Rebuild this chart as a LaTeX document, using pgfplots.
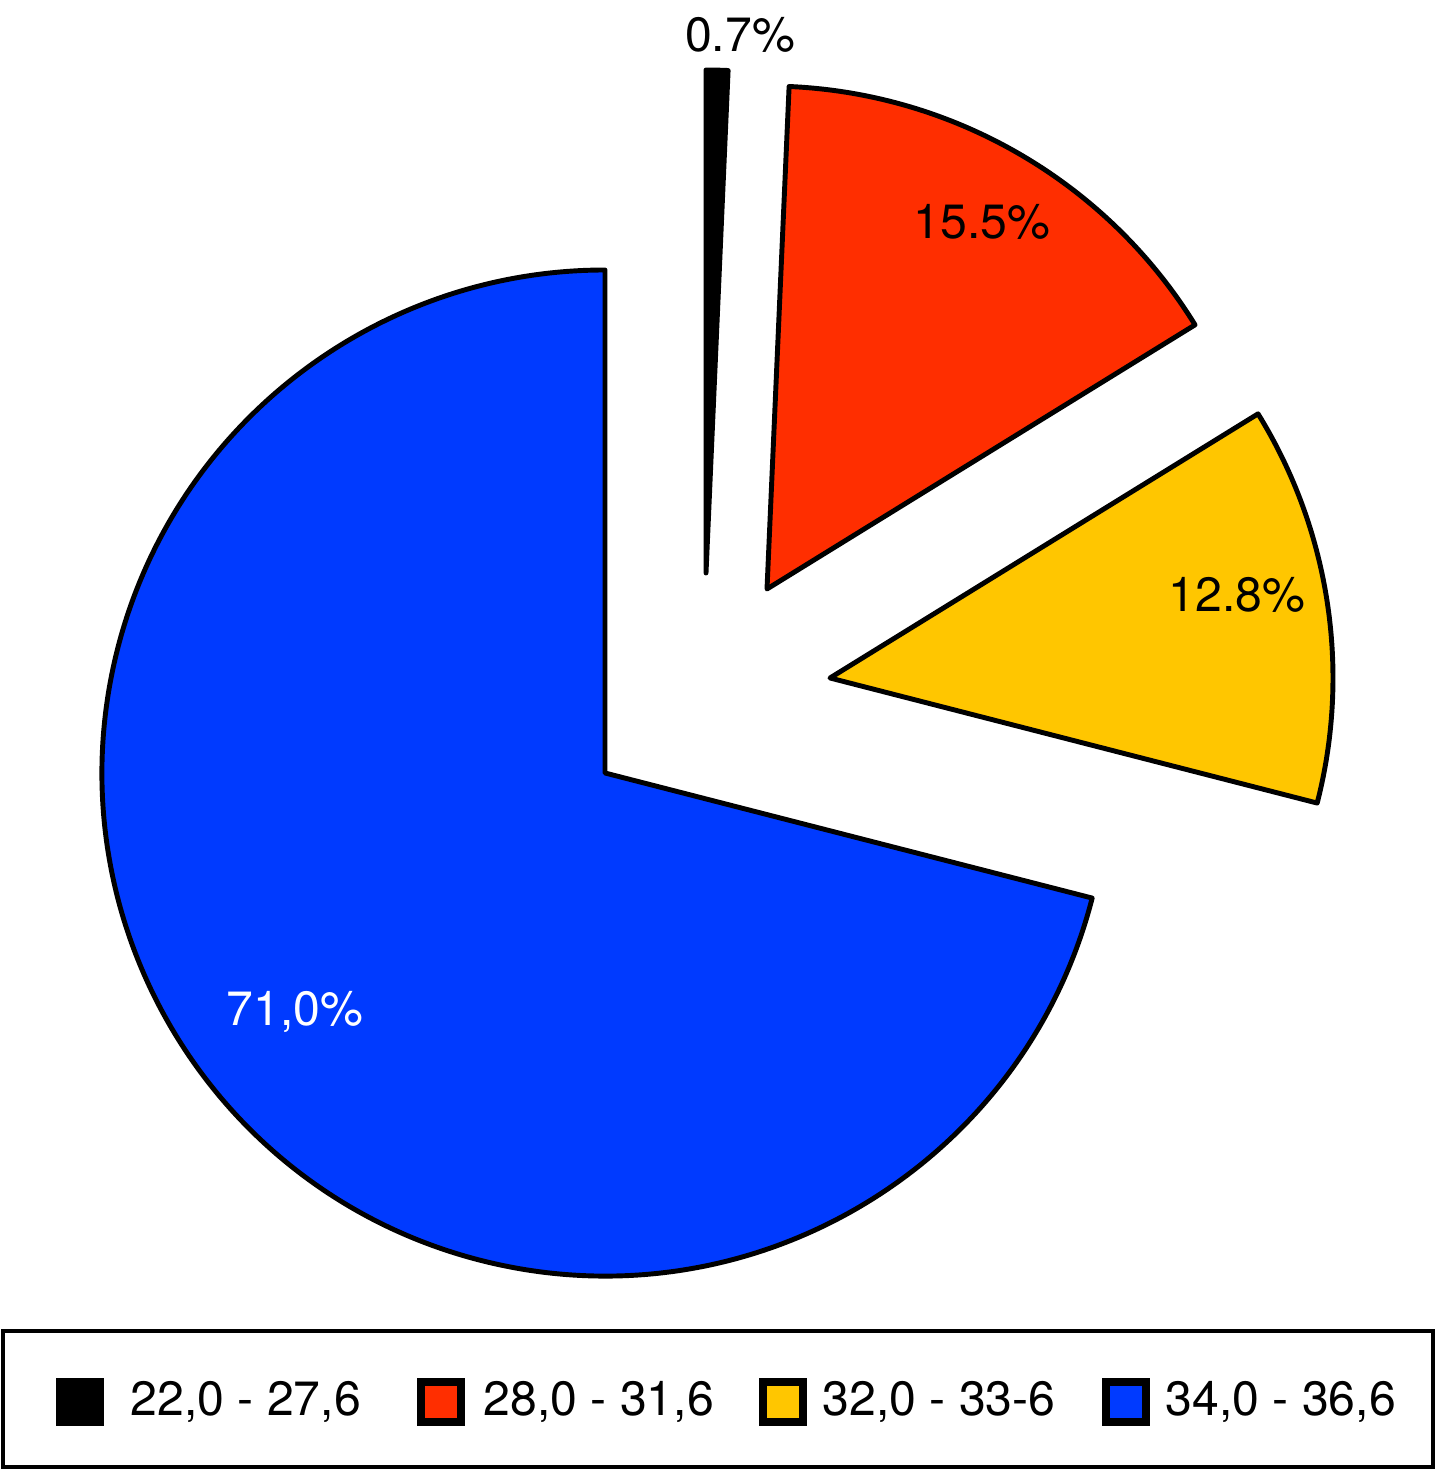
\documentclass[border=0pt]{standalone}
\usepackage{fontspec}
\setmainfont{TeX Gyre Heros}
\usepackage{pgfplots}
\usepackage{pgfplotstable}
\pgfplotsset{compat=1.18}

\definecolor{sblack}{RGB}{0,0,0}
\definecolor{sred}{RGB}{255,46,0}
\definecolor{syellow}{RGB}{255,198,0}
\definecolor{sblue}{RGB}{0,58,255}

% share (%), explode offset of the slice (px), colour
\pgfplotstableread{
pct   dx   dy   col
0.7   101  200  sblack
15.5  162  184  sred
12.8  225  95   syellow
71.0  0    0    sblue
}\slices

\begin{document}
\begin{tikzpicture}[font=\fontsize{13.7pt}{16pt}\selectfont]
\begin{axis}[
  width=14.37cm, height=14.72cm,
  scale only axis,
  xmin=0, xmax=1437, ymin=0, ymax=1472,
  enlargelimits=false,
  hide axis,
  clip=false,
]
\path (axis cs:0,0) rectangle (axis cs:1437,1472);
\pgfplotstablegetrowsof{\slices}
\pgfmathtruncatemacro\nrows{\pgfplotsretval-1}
\def\angA{90}
\pgfplotsforeachungrouped \i in {0,...,\nrows}{%
  \pgfplotstablegetelem{\i}{pct}\of\slices \let\pct\pgfplotsretval
  \pgfplotstablegetelem{\i}{dx}\of\slices \let\ddx\pgfplotsretval
  \pgfplotstablegetelem{\i}{dy}\of\slices \let\ddy\pgfplotsretval
  \pgfplotstablegetelem{\i}{col}\of\slices \let\col\pgfplotsretval
  \pgfmathsetmacro\angB{\angA-3.6*\pct}
  \pgfmathsetmacro\cx{605+\ddx}
  \pgfmathsetmacro\cy{699+\ddy}
  \edef\temp{\noexpand\filldraw[fill=\col, draw=black, line width=1.4pt, line join=round]
    (axis cs:\cx,\cy) -- ++(\angA:5.03cm)
    arc[start angle=\angA, end angle=\angB, radius=5.03cm] -- cycle;}
  \temp
  \global\let\angA\angB
}

% slice labels
\node at (axis cs:740,1437) {0.7\%};
\node at (axis cs:982,1250) {15.5\%};
\node at (axis cs:1237,877) {12.8\%};
\node[white] at (axis cs:295,460) {71,0\%};

% legend
\draw[line width=1.4pt] (axis cs:3,5) rectangle (axis cs:1433,141);
\fill[sblack] (axis cs:56,46) rectangle (axis cs:104,94);
\filldraw[fill=sred, draw=black, line width=2.2pt] (axis cs:421,50) rectangle (axis cs:461,90);
\filldraw[fill=syellow, draw=black, line width=2.2pt] (axis cs:763,50) rectangle (axis cs:803,90);
\filldraw[fill=sblue, draw=black, line width=2.2pt] (axis cs:1106,50) rectangle (axis cs:1146,90);
\node[anchor=west, inner sep=0pt] at (axis cs:130,70) {22,0 - 27,6};
\node[anchor=west, inner sep=0pt] at (axis cs:483,70) {28,0 - 31,6};
\node[anchor=west, inner sep=0pt] at (axis cs:822,70) {32,0 - 33-6};
\node[anchor=west, inner sep=0pt] at (axis cs:1165,70) {34,0 - 36,6};
\end{axis}
\end{tikzpicture}
\end{document}
